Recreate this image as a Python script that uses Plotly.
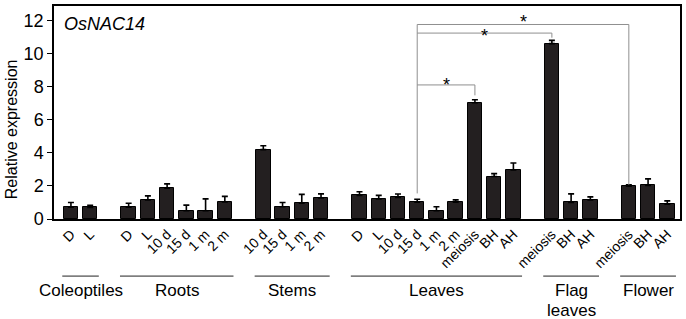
import plotly.graph_objects as go

# ---------------- data ----------------
groups = ["Coleoptiles", "Roots", "Stems", "Leaves", "Flag leaves", "Flower"]
group_text = ["Coleoptiles", "Roots", "Stems", "Leaves", "Flag<br>leaves", "Flower"]

coleoptiles_labels = ["D", "L"]
coleoptiles_values = [0.72, 0.70]
coleoptiles_err = [0.28, 0.13]

roots_labels = ["D", "L", "10 d", "15 d", "1 m", "2 m"]
roots_values = [0.72, 1.16, 1.87, 0.50, 0.50, 1.04]
roots_err = [0.23, 0.24, 0.26, 0.34, 0.72, 0.33]

stems_labels = ["10 d", "15 d", "1 m", "2 m"]
stems_values = [4.20, 0.74, 0.95, 1.27]
stems_err = [0.24, 0.26, 0.54, 0.25]

leaves_labels = ["D", "L", "10 d", "15 d", "1 m", "2 m", "meiosis", "BH", "AH"]
leaves_values = [1.43, 1.22, 1.31, 1.02, 0.50, 1.02, 7.04, 2.57, 2.97]
leaves_err = [0.22, 0.21, 0.20, 0.18, 0.24, 0.14, 0.18, 0.18, 0.42]

flag_labels = ["meiosis", "BH", "AH"]
flag_values = [10.62, 1.00, 1.16]
flag_err = [0.20, 0.52, 0.18]

flower_labels = ["meiosis", "BH", "AH"]
flower_values = [1.99, 2.03, 0.89]
flower_err = [0.08, 0.40, 0.21]

y_ticks = [0, 2, 4, 6, 8, 10, 12]

# significance brackets (from one bar to others)
sig_from = ("Leaves", "15 d")
sig_from_drop = 1.55
sig_to = [("Leaves", "meiosis"), ("Flag leaves", "meiosis"), ("Flower", "meiosis")]
sig_level = [8.12, 11.26, 11.78]
sig_drop = [7.49, 10.98, 2.07]
sig_star_y = [8.43, 11.37, 12.23]

# ---------------- layout of categories ----------------
group_data = [
    (coleoptiles_labels, coleoptiles_values, coleoptiles_err),
    (roots_labels, roots_values, roots_err),
    (stems_labels, stems_values, stems_err),
    (leaves_labels, leaves_values, leaves_err),
    (flag_labels, flag_values, flag_err),
    (flower_labels, flower_values, flower_err),
]

xs, labels, vals, errs = [], [], [], []
group_span = []
pos_lookup = {}
slot = 0
for g, (labs, vs, es) in zip(groups, group_data):
    start = slot
    for lab, v, e in zip(labs, vs, es):
        xs.append(slot)
        labels.append(lab)
        vals.append(v)
        errs.append(e)
        pos_lookup[(g, lab)] = slot
        slot += 1
    group_span.append((start, slot - 1))
    slot += 1  # gap between groups

FONT = "Liberation Sans, Arial, sans-serif"

fig = go.Figure()
fig.add_trace(go.Bar(
    x=xs, y=vals, width=0.75,
    marker=dict(color="#231f20", line=dict(color="#000000", width=1)),
    error_y=dict(type="data", array=errs, arrayminus=[0] * len(errs), symmetric=False,
                 color="#000000", thickness=1.6, width=3),
    showlegend=False, hoverinfo="skip",
))

shapes = []
annotations = []
gray = "#8f8f8f"
x_from = pos_lookup[sig_from]
top_level = max(sig_level)
shapes.append(dict(type="line", xref="x", yref="y", x0=x_from, x1=x_from,
                   y0=sig_from_drop, y1=top_level, line=dict(color=gray, width=1)))
for tgt, lvl, drop, sy in zip(sig_to, sig_level, sig_drop, sig_star_y):
    xt = pos_lookup[tgt]
    shapes.append(dict(type="line", xref="x", yref="y", x0=x_from, x1=xt, y0=lvl, y1=lvl,
                       line=dict(color=gray, width=1)))
    shapes.append(dict(type="line", xref="x", yref="y", x0=xt, x1=xt, y0=lvl, y1=drop,
                       line=dict(color=gray, width=1)))
    annotations.append(dict(text="*", xref="x", yref="y", x=(x_from + xt) / 2, y=sy,
                            showarrow=False, xanchor="center", yanchor="middle", yshift=-5,
                            font=dict(size=18, color="#000000", family=FONT)))

# group lines and labels below the axis
for (s, e), txt in zip(group_span, group_text):
    shapes.append(dict(type="line", xref="x", yref="paper", x0=s - 0.45, x1=e + 0.45,
                       y0=-0.268, y1=-0.268, line=dict(color="#222222", width=1)))
    for i, line_txt in enumerate(txt.split("<br>")):
        annotations.append(dict(text=line_txt, xref="x", yref="paper", x=(s + e) / 2, y=-0.282,
                                yshift=-20 * i,
                                showarrow=False, xanchor="center", yanchor="top",
                                font=dict(size=17, color="#000000", family=FONT)))

# gene name
annotations.append(dict(text="<i>OsNAC14</i>", xref="paper", yref="paper",
                        x=(62 - 54) / 628, y=(219.3 - 22) / 215, xanchor="left", yanchor="middle",
                        showarrow=False,
                        font=dict(size=18, color="#000000", family=FONT)))
# y-axis title
annotations.append(dict(text="Relative expression", xref="paper", yref="paper",
                        x=(11 - 54) / 628, y=(219.3 - 128.5) / 215, xanchor="center", yanchor="middle",
                        textangle=-90, showarrow=False,
                        font=dict(size=16, color="#000000", family=FONT)))

fig.update_layout(
    width=686, height=319,
    margin=dict(l=54, r=4, t=4, b=100),
    paper_bgcolor="white", plot_bgcolor="white",
    font=dict(family=FONT, color="#000000"),
    shapes=shapes, annotations=annotations,
    bargap=0,
)
fig.update_xaxes(
    range=[-0.88, 31.66], tickmode="array", tickvals=xs, ticktext=labels,
    tickangle=-45, tickfont=dict(size=14, color="#000000"),
    showline=True, linecolor="#000000", linewidth=1.5, mirror=True,
    ticks="", showgrid=False, zeroline=False,
)
fig.update_yaxes(
    range=[0, 12.9], tickmode="array", tickvals=y_ticks,
    tickfont=dict(size=18, color="#000000"),
    showline=True, linecolor="#000000", linewidth=1.5, mirror=True,
    ticks="outside", ticklen=5, tickwidth=1.2, tickcolor="#000000",
    showgrid=False, zeroline=False,
)

fig.write_html("out.html", config={"displayModeBar": False},
               post_script="document.body.style.margin='0';document.body.style.overflow='hidden';")
